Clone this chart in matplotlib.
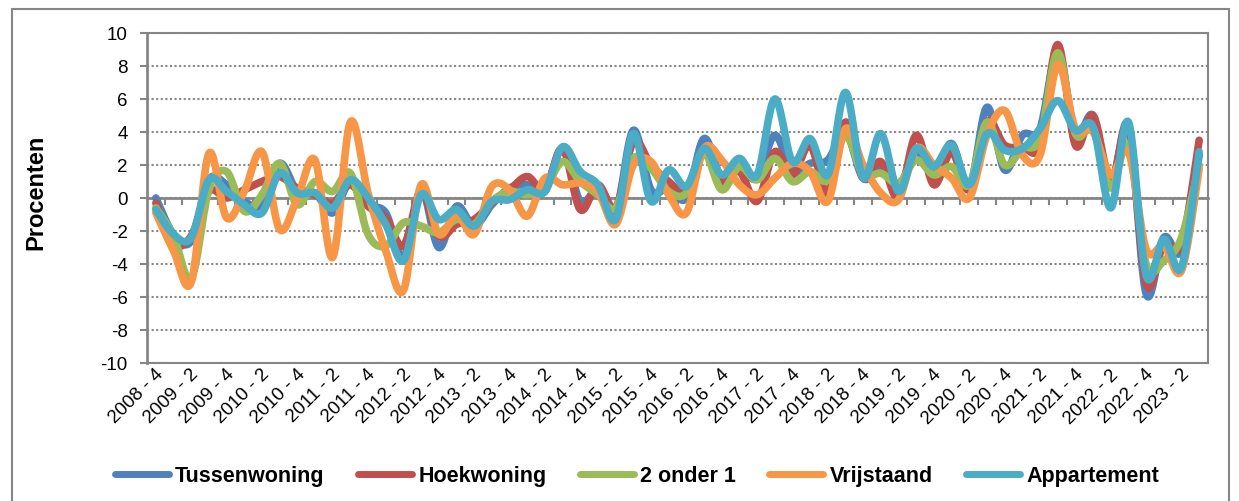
import numpy as np
import matplotlib.pyplot as plt
from matplotlib.patches import Rectangle
from matplotlib.transforms import ScaledTranslation

plt.rcParams['font.family'] = ['Liberation Sans', 'DejaVu Sans']

# kwartalen 2008-4 t/m 2023-3 (label om de 2)
kwartalen = [f'{j} - {k}' for j in range(2008, 2024) for k in range(1, 5)][3:63]

tussenwoning = [0.0, -2.2, -2.6, 1.1, 0.8, -0.2, -0.4, 2.1, 0.4, 0.3,
                -0.9, 1.0, -0.4, -0.9, -3.6, 0.5, -3.0, -0.5, -1.7, -0.4,
                0.6, 0.8, 0.4, 3.0, -0.2, 0.5, -0.9, 4.1, 0.5, 0.6,
                0.0, 3.6, 1.2, 1.8, 1.2, 3.8, 1.6, 2.1, 2.3, 4.0,
                1.2, 1.8, 0.7, 2.8, 1.4, 3.3, 0.6, 5.5, 1.7, 3.8,
                4.2, 8.9, 3.8, 5.0, 0.8, 4.4, -5.8, -2.4, -3.2, 2.6]
hoekwoning = [-0.3, -2.8, -2.3, 0.4, 0.0, 0.5, 1.0, 1.3, 0.6, 0.2,
              -0.3, 0.8, -0.5, -1.2, -2.9, 0.4, -2.3, -1.6, -1.3, -0.3,
              0.5, 1.3, 0.5, 3.0, -0.7, 0.8, -0.6, 3.4, 2.0, 1.0,
              0.4, 3.0, 1.0, 1.6, -0.2, 2.8, 1.4, 3.2, 0.3, 4.6,
              1.2, 2.2, 0.0, 3.8, 0.8, 2.8, 0.5, 4.6, 3.2, 3.1,
              3.2, 9.3, 3.2, 5.0, 1.0, 4.2, -5.2, -2.8, -2.8, 3.5]
twee_onder_1 = [-0.6, -2.3, -4.9, 0.5, 1.6, -0.8, 0.2, 2.1, -0.4, 1.0,
                0.4, 1.5, -2.2, -2.9, -1.5, -1.7, -2.1, -1.3, -1.6, -0.2,
                0.4, 0.2, 0.6, 2.2, 1.0, 0.2, -0.6, 2.4, 1.8, 0.4,
                0.3, 2.7, 0.5, 1.9, 1.1, 2.4, 1.0, 1.6, 1.1, 3.8,
                1.4, 1.5, 0.9, 2.3, 1.4, 1.9, 0.8, 4.6, 2.0, 3.0,
                3.6, 8.8, 3.9, 4.2, 0.6, 3.2, -4.0, -3.8, -2.4, 2.0]
vrijstaand = [-0.9, -3.2, -5.1, 2.7, -1.2, 0.4, 2.8, -1.9, 0.0, 2.3,
              -3.6, 4.6, 0.3, -3.2, -5.6, 0.8, -2.2, -1.0, -2.2, 0.7,
              0.5, -1.1, 1.2, 0.8, 0.9, 0.4, -1.6, 2.0, 2.2, 0.2,
              -0.9, 3.0, 2.3, 0.8, 0.2, 1.2, 2.1, 1.6, -0.2, 4.2,
              2.0, 0.3, -0.1, 3.0, 2.0, 1.2, 0.0, 3.8, 5.3, 2.6,
              2.6, 8.1, 4.2, 4.0, 1.4, 2.8, -3.1, -2.9, -4.4, 1.8]
appartement = [-0.7, -2.2, -2.4, 1.1, 0.4, -0.4, -0.9, 1.5, 0.3, 0.3,
               -0.6, 1.1, 0.0, -1.6, -3.8, 0.2, -1.3, -0.7, -1.7, -0.2,
               -0.1, 0.5, 0.4, 3.1, 1.6, 0.8, -1.3, 3.9, -0.2, 1.7,
               0.7, 3.0, 1.4, 2.4, 1.4, 6.0, 2.2, 3.6, 1.4, 6.4,
               1.2, 3.9, 0.4, 3.0, 1.9, 3.2, 0.8, 3.9, 2.9, 3.0,
               4.2, 5.9, 4.1, 4.3, -0.6, 4.6, -4.7, -2.5, -4.2, 2.8]

namen = ['Tussenwoning', 'Hoekwoning', '2 onder 1', 'Vrijstaand', 'Appartement']
kleuren = ['#4F81BD', '#C0504D', '#9BBB59', '#F79646', '#4BACC6']
reeksen = [tussenwoning, hoekwoning, twee_onder_1, vrijstaand, appartement]


def smooth(y, n=24):
    # bezier-smoothing zoals Excel (curve gaat door de punten)
    y = np.asarray(y, float)
    x = np.arange(len(y), dtype=float)
    px = np.concatenate([[x[0]], x, [x[-1]]])
    py = np.concatenate([[y[0]], y, [y[-1]]])
    t = np.linspace(0, 1, n, endpoint=False)
    xs, ys = [], []
    for i in range(len(y) - 1):
        x0, x1, x2, x3 = px[i:i + 4]
        y0, y1, y2, y3 = py[i:i + 4]
        bx1, by1 = x1 + (x2 - x0) / 6, y1 + (y2 - y0) / 6
        bx2, by2 = x2 - (x3 - x1) / 6, y2 - (y3 - y1) / 6
        a, b, c, d = (1 - t)**3, 3*(1 - t)**2*t, 3*(1 - t)*t**2, t**3
        xs.append(a*x1 + b*bx1 + c*bx2 + d*x2)
        ys.append(a*y1 + b*by1 + c*by2 + d*y2)
    xs.append([x[-1]])
    ys.append([y[-1]])
    return np.concatenate(xs), np.concatenate(ys)


fig = plt.figure(figsize=(12.39, 5.02), dpi=100)
ax = fig.add_axes([147/1239, 1 - 364/502, (1208 - 147)/1239, 330/502])
grijs = '#868686'

for naam, kleur, r in zip(namen, kleuren, reeksen):
    xs, ys = smooth(r)
    ax.plot(xs, ys, color=kleur, lw=5.5, label=naam,
            solid_capstyle='round', solid_joinstyle='round', zorder=3)

ax.set_xlim(-0.5, len(kwartalen) - 0.5)
ax.set_ylim(-10, 10)
ax.set_yticks(range(-10, 11, 2))
ax.set_yticklabels([str(v) for v in range(-10, 11, 2)], fontsize=13.5)
ax.grid(axis='y', color=grijs, lw=1.5, linestyle=(0, (1, 1.2)))
ax.tick_params(axis='y', direction='out', length=5, width=1.5, color=grijs, pad=9)

ax.set_xticks(range(0, len(kwartalen), 2))
ax.set_xticklabels(kwartalen[::2], rotation=45, ha='right', va='center',
                   rotation_mode='anchor', fontsize=13.5)
ax.tick_params(axis='x', length=0, pad=6)
for lab in ax.get_xticklabels():
    lab.set_transform(lab.get_transform() + ScaledTranslation(5/100, 0, fig.dpi_scale_trans))

for s in ax.spines.values():
    s.set_color(grijs)
    s.set_linewidth(1.5)
ax.spines['left'].set_linewidth(2)

# horizontale as op 0 met streepjes tussen de kwartalen
sec = ax.secondary_xaxis(0.5)
sec.set_xticks(np.arange(0.5, len(kwartalen) - 1, 1))
sec.tick_params(direction='in', length=5, width=1.5, color=grijs,
                labeltop=False, labelbottom=False)
for s in sec.spines.values():
    s.set_color(grijs)
    s.set_linewidth(2)

fig.text(36/1239, 1 - 192/502, 'Procenten', rotation=90, ha='center', va='center',
         fontsize=17, fontweight='bold')

leg = fig.legend(loc='center', bbox_to_anchor=(637/1239, 1 - 477/502), ncol=5,
                 frameon=False, prop={'size': 15.5, 'weight': 'bold'},
                 handlelength=2.5, handletextpad=0.3, columnspacing=1.55)
for h in leg.get_lines():
    h.set_linewidth(5)

fig.patches.append(Rectangle((12/1239, -0.05), (1229 - 12)/1239, 1.05 - 10/502,
                             transform=fig.transFigure, fill=False,
                             edgecolor=grijs, lw=1.5, clip_on=False))

fig.savefig('out.png', dpi=100)
